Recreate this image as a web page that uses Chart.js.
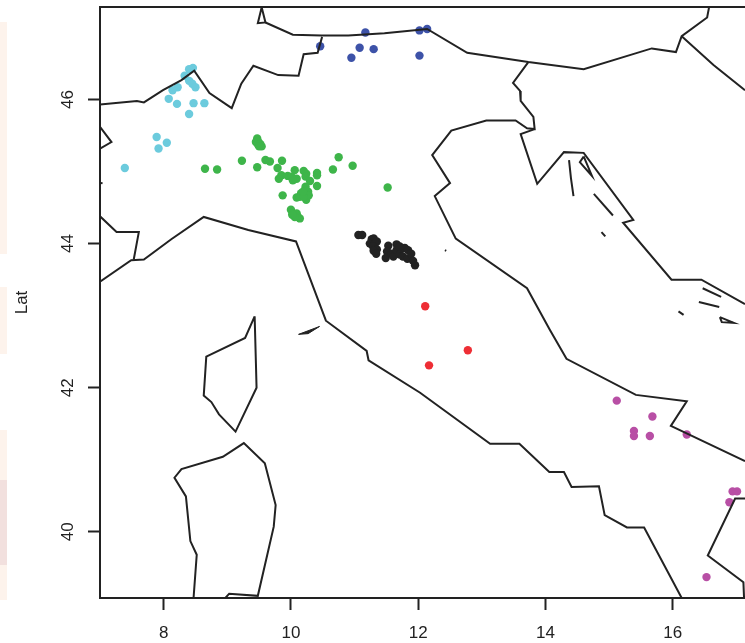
<!DOCTYPE html>
<html>
<head>
<meta charset="utf-8">
<script src="https://cdn.jsdelivr.net/npm/chart.js@4"></script>
<style>
  html, body { margin: 0; padding: 0; background: #fff; overflow: hidden; }
  #strip {
    position: absolute; left: 0; top: 0; width: 7px; height: 643px;
    background: linear-gradient(to bottom,
      #fff 0 22px, #fdf3ec 22px 254px, #fff 254px 287px, #fdf3ec 287px 354px,
      #fff 354px 430px, #fdf3ec 430px 480px, #f2e0de 480px 565px, #fdf3ec 565px 600px, #fff 600px);
  }
  canvas { position: absolute; left: 0; top: 0; }
</style>
</head>
<body>
<div id="strip"></div>
<canvas id="chart" width="745" height="643"></canvas>
<script>
const xTicks = [8, 10, 12, 14, 16];
const yTicks = [40, 42, 44, 46];

// sample sites, [lon, lat]
const cyanSites = [[8.46,46.44],[8.40,46.42],[8.33,46.33],[8.40,46.26],[8.45,46.22],[8.50,46.17],[8.22,46.17],[8.14,46.13],[8.08,46.01],[8.21,45.94],[8.47,45.95],[8.64,45.95],[8.40,45.80],[7.89,45.48],[8.05,45.40],[7.92,45.32],[7.39,45.05]];
const blueSites = [[10.46,46.74],[11.17,46.93],[11.08,46.72],[11.30,46.70],[10.95,46.58],[12.02,46.96],[12.14,46.98],[12.02,46.61]];
const greenSites = [[9.47,45.46],[9.45,45.41],[9.49,45.41],[9.48,45.38],[9.52,45.38],[9.54,45.35],[9.50,45.35],[8.65,45.04],[8.84,45.03],[9.23,45.15],[9.47,45.06],[9.60,45.16],[9.67,45.14],[9.86,45.15],[9.79,45.05],[9.85,44.95],[9.81,44.90],[9.95,44.94],[10.06,45.02],[10.01,44.93],[10.09,44.90],[10.03,44.88],[10.20,45.01],[10.24,44.97],[10.23,44.93],[10.41,44.98],[10.41,44.95],[10.30,44.87],[10.41,44.80],[9.87,44.67],[10.09,44.64],[10.16,44.70],[10.22,44.74],[10.27,44.72],[10.24,44.61],[10.28,44.67],[10.14,44.65],[10.20,44.65],[10.23,44.79],[10.19,44.72],[10.66,45.03],[10.75,45.20],[10.97,45.08],[11.52,44.78],[10.00,44.47],[10.03,44.42],[10.09,44.42],[10.11,44.37],[10.14,44.35],[10.06,44.37],[10.02,44.40]];
const blackSites = [[11.06,44.12],[11.12,44.12],[11.27,44.06],[11.30,44.07],[11.24,44.00],[11.32,44.00],[11.35,44.03],[11.29,43.96],[11.35,43.92],[11.30,43.90],[11.34,43.86],[11.53,43.97],[11.51,43.89],[11.49,43.80],[11.58,43.86],[11.61,43.82],[11.66,43.99],[11.66,43.91],[11.71,43.85],[11.74,43.93],[11.79,43.94],[11.76,43.82],[11.84,43.91],[11.83,43.79],[11.89,43.86],[11.92,43.76],[11.95,43.70],[11.71,43.96]];
const redSites = [[12.11,43.13],[12.17,42.31],[12.78,42.52]];
const purpleSites = [[15.12,41.82],[15.68,41.60],[15.39,41.40],[15.39,41.33],[15.64,41.33],[16.22,41.35],[16.94,40.56],[17.01,40.56],[16.89,40.41],[16.53,39.37]];

// map outlines, [lon, lat]
const alpsWest = [[7.0,45.93],[7.58,45.98],[7.69,45.96],[7.99,46.13],[8.28,46.27],[8.48,46.40],[8.72,46.09],[9.07,45.88],[9.22,46.22],[9.41,46.47],[9.80,46.34],[10.12,46.33],[10.20,46.63],[10.42,46.65],[10.49,46.87]];
const notch = [[9.54,47.28],[9.48,47.06],[9.60,47.07],[9.54,47.28]];
const northBorder = [[9.60,47.07],[10.03,46.90],[10.48,46.89],[10.90,46.89],[11.47,46.92],[12.14,46.98],[12.77,46.65],[13.73,46.52],[14.60,46.42],[15.67,46.71],[16.05,46.66],[16.14,46.88],[16.54,47.14],[16.57,47.28]];
const northEast = [[16.14,46.88],[16.64,46.48],[17.135,46.13]];
const italyEast = [[13.73,46.52],[13.49,46.23],[13.60,46.12],[13.61,45.98],[13.81,45.76],[13.83,45.59],[13.71,45.60],[13.53,45.71],[13.07,45.71],[12.52,45.57],[12.22,45.23],[12.50,44.84],[12.26,44.66],[12.59,44.07],[13.71,43.38],[14.07,42.80],[14.33,42.40],[15.42,41.90],[16.22,41.81],[15.97,41.47],[17.135,40.98]];
const croatiaCoast = [[13.83,45.59],[13.61,45.52],[13.87,44.83],[14.29,45.27],[14.60,45.26],[15.38,44.33],[15.22,44.29],[15.98,43.50],[16.45,43.50],[17.135,43.16]];
const italyWest = [[7.0,43.47],[7.49,43.77],[7.69,43.78],[8.12,44.06],[8.63,44.37],[9.33,44.19],[10.08,44.03],[10.55,42.93],[11.19,42.51],[11.22,42.38],[12.03,41.93],[13.13,41.22],[13.59,41.22],[14.06,40.83],[14.29,40.83],[14.41,40.62],[14.84,40.63],[14.93,40.23],[15.28,40.06],[15.55,40.06],[16.14,39.08]];
const franceBorder = [[7.0,44.38],[7.26,44.16],[7.61,44.16],[7.53,43.78]];
const swissPiece = [[7.0,45.62],[7.18,45.41],[7.0,45.32]];
const edgeStub = [[7.0,44.84],[7.04,44.84]];
const calabria = [[17.135,40.46],[16.98,40.46],[16.55,39.67],[17.11,39.30],[17.12,39.08]];
const corsica = [[9.43,42.99],[9.45,42.34],[9.46,42.00],[9.13,41.39],[8.87,41.63],[8.75,41.80],[8.63,41.89],[8.67,42.43],[9.28,42.69],[9.43,42.99]];
const sardinia = [[8.47,39.08],[8.52,39.68],[8.42,39.87],[8.35,40.49],[8.17,40.75],[8.28,40.87],[8.93,41.04],[9.26,41.23],[9.59,40.95],[9.76,40.37],[9.73,40.07],[9.48,39.11],[9.03,39.14],[8.97,39.08]];
const adriaticIslands = [
  [[14.37,45.16],[14.40,44.91],[14.44,44.66]],
  [[14.60,45.21],[14.54,45.13],[14.73,44.94],[14.60,45.21]],
  [[14.76,44.69],[15.06,44.39]],
  [[14.88,44.16],[14.94,44.10]],
  [[12.42,43.91],[12.44,43.90]],
  [[16.47,43.38],[16.76,43.26]],
  [[16.41,43.19],[16.73,43.12]],
  [[16.09,43.06],[16.17,43.01]],
  [[16.74,42.98],[16.77,42.91],[16.96,42.90],[16.74,42.98]],
];
const elba = [[10.12,42.74],[10.45,42.85],[10.27,42.75],[10.12,42.74]];

const INK = '#222222';
const FAMILY = '"Liberation Sans", Arial, sans-serif';

const toXY = pts => pts.map(p => ({ x: p[0], y: p[1] }));

function outline(pts, fill) {
  return {
    data: toXY(pts), showLine: true, pointRadius: 0, borderColor: INK, borderWidth: fill ? 1 : 2,
    fill: fill ? 'shape' : false, backgroundColor: fill ? INK : 'transparent', tension: 0,
  };
}

function sites(pts, color) {
  return { data: toXY(pts), pointRadius: 4.2, pointBorderWidth: 0, backgroundColor: color, pointBackgroundColor: color, showLine: false };
}

// R style frame top edge and rotated y tick labels, chart.js won't center these itself
const framePlugin = {
  id: 'frame',
  afterDraw(chart) {
    const { ctx, chartArea, scales } = chart;
    ctx.save();
    ctx.strokeStyle = INK;
    ctx.lineWidth = 2;
    ctx.beginPath();
    ctx.moveTo(chartArea.left - 1, chartArea.top);
    ctx.lineTo(chartArea.right, chartArea.top);
    ctx.stroke();
    ctx.fillStyle = INK;
    ctx.font = '17px ' + FAMILY;
    ctx.textAlign = 'center';
    ctx.textBaseline = 'middle';
    for (const v of yTicks) {
      ctx.save();
      ctx.translate(68, scales.y.getPixelForValue(v));
      ctx.rotate(-Math.PI / 2);
      ctx.fillText(String(v), 0, 0);
      ctx.restore();
    }
    ctx.restore();
  },
};

new Chart(document.getElementById('chart'), {
  type: 'scatter',
  plugins: [framePlugin],
  data: {
    datasets: [
      outline(alpsWest), outline(notch), outline(northBorder), outline(northEast),
      outline(italyEast), outline(croatiaCoast), outline(italyWest), outline(franceBorder),
      outline(swissPiece), outline(edgeStub), outline(calabria), outline(corsica), outline(sardinia),
      ...adriaticIslands.map(p => outline(p)),
      outline(elba, true),
      sites(cyanSites, '#6ccbdd'),
      sites(blueSites, '#3d52a8'),
      sites(greenSites, '#3eb54a'),
      sites(blackSites, '#222222'),
      sites(redSites, '#ee2e35'),
      sites(purpleSites, '#b84fa5'),
    ],
  },
  options: {
    responsive: false,
    animation: false,
    layout: { autoPadding: false, padding: { top: 7, right: 0, left: 0, bottom: 0 } },
    plugins: { legend: { display: false }, tooltip: { enabled: false } },
    scales: {
      x: {
        type: 'linear', min: 7, max: 17.135,
        afterBuildTicks: s => { s.ticks = xTicks.map(v => ({ value: v })); },
        afterFit: s => { s.height = 45; },
        border: { display: true, color: INK, width: 2 },
        grid: { drawOnChartArea: false, drawTicks: true, tickLength: 12, tickWidth: 2, tickColor: INK },
        ticks: { color: INK, font: { family: FAMILY, size: 17 }, padding: 13, maxRotation: 0, autoSkip: false },
      },
      y: {
        type: 'linear', min: 39.08, max: 47.285,
        afterBuildTicks: s => { s.ticks = yTicks.map(v => ({ value: v })); },
        afterFit: s => { s.width = 100; },
        border: { display: true, color: INK, width: 2 },
        grid: { drawOnChartArea: false, drawTicks: true, tickLength: 12, tickWidth: 2, tickColor: INK },
        ticks: { display: false },
        title: { display: true, text: 'Lat', color: INK, font: { family: FAMILY, size: 17 }, padding: { top: 12, bottom: 0 } },
      },
    },
  },
});
</script>
</body>
</html>
